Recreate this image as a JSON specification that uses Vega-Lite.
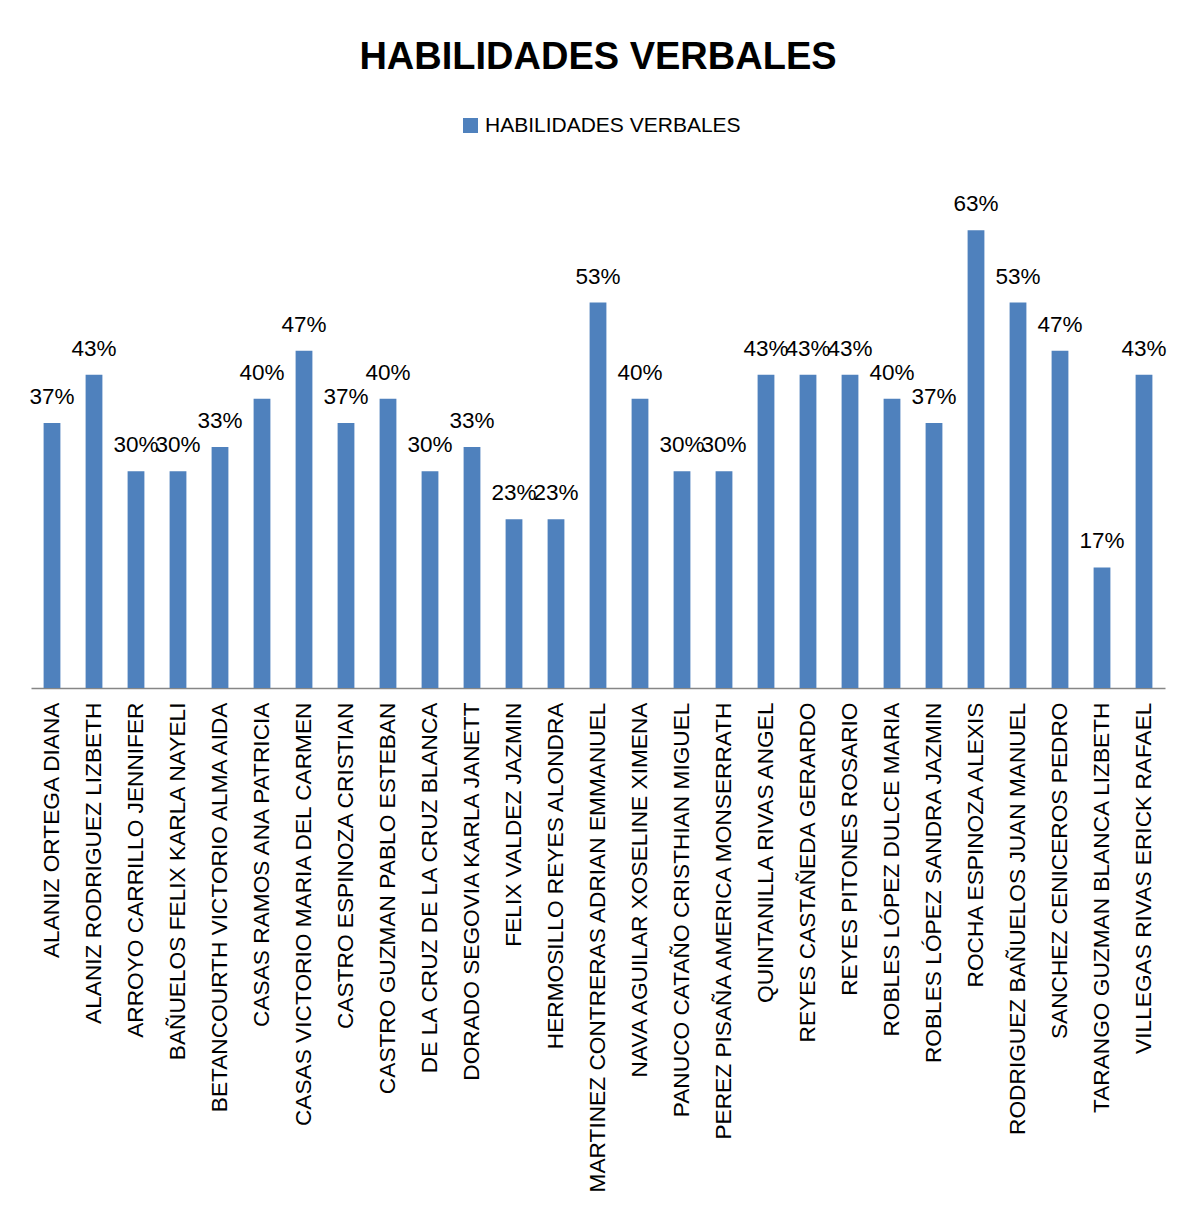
{
  "$schema": "https://vega.github.io/schema/vega-lite/v6.json",
  "autosize": "none",
  "width": 1134,
  "height": 506,
  "padding": {"left": 31, "top": 182, "right": 27, "bottom": 518},
  "background": "white",
  "title": {
    "text": "HABILIDADES VERBALES",
    "font": "Liberation Sans",
    "fontSize": 38,
    "fontWeight": "bold",
    "color": "#000000",
    "anchor": "middle",
    "baseline": "alphabetic",
    "offset": 8
  },
  "data": {
    "values": [
      {"nombre": "ALANIZ ORTEGA DIANA", "valor": 0.3667},
      {"nombre": "ALANIZ RODRIGUEZ LIZBETH", "valor": 0.4333},
      {"nombre": "ARROYO CARRILLO JENNIFER", "valor": 0.3},
      {"nombre": "BAÑUELOS FELIX KARLA NAYELI", "valor": 0.3},
      {"nombre": "BETANCOURTH VICTORIO ALMA AIDA", "valor": 0.3333},
      {"nombre": "CASAS RAMOS ANA PATRICIA", "valor": 0.4},
      {"nombre": "CASAS VICTORIO MARIA DEL CARMEN", "valor": 0.4667},
      {"nombre": "CASTRO ESPINOZA CRISTIAN", "valor": 0.3667},
      {"nombre": "CASTRO GUZMAN PABLO ESTEBAN", "valor": 0.4},
      {"nombre": "DE LA CRUZ DE LA CRUZ BLANCA", "valor": 0.3},
      {"nombre": "DORADO SEGOVIA KARLA JANETT", "valor": 0.3333},
      {"nombre": "FELIX VALDEZ JAZMIN", "valor": 0.2333},
      {"nombre": "HERMOSILLO REYES ALONDRA", "valor": 0.2333},
      {"nombre": "MARTINEZ CONTRERAS ADRIAN EMMANUEL", "valor": 0.5333},
      {"nombre": "NAVA AGUILAR XOSELINE XIMENA", "valor": 0.4},
      {"nombre": "PANUCO CATAÑO CRISTHIAN MIGUEL", "valor": 0.3},
      {"nombre": "PEREZ PISAÑA AMERICA MONSERRATH", "valor": 0.3},
      {"nombre": "QUINTANILLA RIVAS ANGEL", "valor": 0.4333},
      {"nombre": "REYES CASTAÑEDA GERARDO", "valor": 0.4333},
      {"nombre": "REYES PITONES ROSARIO", "valor": 0.4333},
      {"nombre": "ROBLES LÓPEZ DULCE MARIA", "valor": 0.4},
      {"nombre": "ROBLES LÓPEZ SANDRA JAZMIN", "valor": 0.3667},
      {"nombre": "ROCHA ESPINOZA ALEXIS", "valor": 0.6333},
      {"nombre": "RODRIGUEZ BAÑUELOS JUAN MANUEL", "valor": 0.5333},
      {"nombre": "SANCHEZ CENICEROS PEDRO", "valor": 0.4667},
      {"nombre": "TARANGO GUZMAN BLANCA LIZBETH", "valor": 0.1667},
      {"nombre": "VILLEGAS RIVAS ERICK RAFAEL", "valor": 0.4333}
    ]
  },
  "encoding": {
    "x": {
      "field": "nombre",
      "type": "nominal",
      "sort": null,
      "scale": {"paddingInner": 0.6, "paddingOuter": 0.3},
      "axis": {
        "title": null,
        "labelAngle": -90,
        "labelAlign": "right",
        "labelBaseline": "middle",
        "labelPadding": 14,
        "labelFont": "Liberation Sans",
        "labelFontSize": 22.7,
        "labelColor": "#000000",
        "labelLimit": 700,
        "labelOverlap": false,
        "ticks": false,
        "domainColor": "#868686",
        "domainWidth": 1.5,
        "grid": false
      }
    },
    "y": {
      "field": "valor",
      "type": "quantitative",
      "scale": {"domain": [0, 0.7], "nice": false},
      "axis": null
    }
  },
  "layer": [
    {
      "mark": {"type": "bar", "color": "#4F81BD"},
      "encoding": {
        "color": {
          "datum": "HABILIDADES VERBALES",
          "type": "nominal",
          "scale": {"range": ["#4F81BD"]},
          "legend": {
            "title": null,
            "orient": "none",
            "legendX": 429,
            "legendY": -67,
            "symbolType": "square",
            "symbolSize": 225,
            "symbolStrokeWidth": 0,
            "labelFont": "Liberation Sans",
            "labelFontSize": 21,
            "labelColor": "#000000",
            "labelOffset": 4,
            "labelLimit": 500
          }
        }
      }
    },
    {
      "mark": {
        "type": "text",
        "baseline": "alphabetic",
        "align": "center",
        "dy": -19,
        "font": "Liberation Sans",
        "fontSize": 22.5,
        "color": "#000000"
      },
      "encoding": {
        "text": {"field": "valor", "type": "quantitative", "format": ".0%"}
      }
    }
  ],
  "config": {
    "view": {"stroke": null},
    "axis": {"grid": false}
  }
}
